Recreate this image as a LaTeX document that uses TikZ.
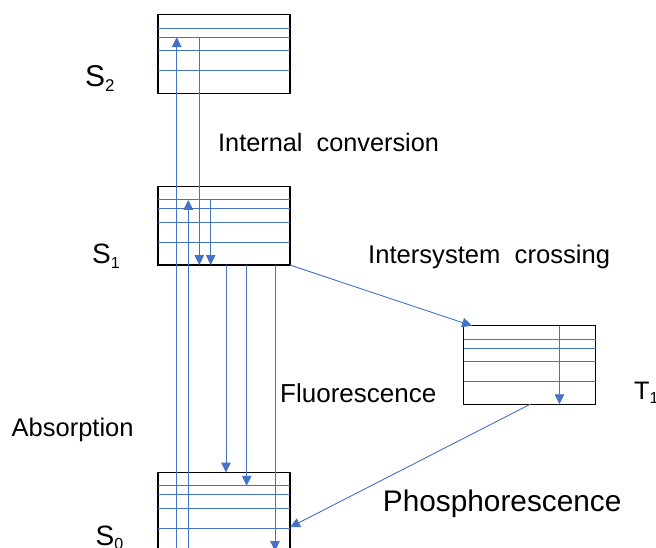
\documentclass[tikz,border=0pt]{standalone}
\usepackage{fontspec}
\setmainfont{Liberation Sans}
\usetikzlibrary{calc,arrows.meta}
\definecolor{lvlblue}{RGB}{68,114,196}
% state label with a lowered index
\newcommand\statelbl[3]{#1\raisebox{-0.17em}{\fontsize{#3}{#3}\selectfont #2}}
\begin{document}
\begin{tikzpicture}[x=1pt,y=-1pt,
  state/.style={draw=black, line width=1.3pt, minimum width=132pt,
    minimum height=78.5pt, inner sep=0pt, outer sep=0pt},
  level/.style={draw=lvlblue, line width=0.9pt},
  trans/.style={draw=lvlblue, line width=0.9pt, -{Triangle[length=10pt,width=9.5pt]}},
  txt/.style={anchor=base west, inner sep=0pt, font=\fontsize{25.3}{30}\selectfont}]
\useasboundingbox (0,0) rectangle (656,548);
\clip (0,0) rectangle (656,548);

% electronic states
\node[state] (S2) at (224,54) {};
\node[state] (S1) at (224,225.8) {};
\node[state] (S0) at (224,511.8) {};
\node[state] (T1) at (529.5,365) {};

% vibrational levels inside each state
\foreach \b in {S2,S1,S0,T1}
  \foreach \d [count=\i] in {13.3,22.3,36,56} {
    \coordinate (\b-\i) at ([yshift=-\d pt]\b.north west);
    \draw[level] (\b-\i) -- ([yshift=-\d pt]\b.north east);
  }

% absorption
\draw[trans] ($(S0.south west)+(18.7,0)$) -- ($(S2-2)+(18.7,0)$);
\draw[trans] ($(S0.south west)+(30.3,0)$) -- ($(S1-1)+(30.3,0)$);
% internal conversion / relaxation
\draw[trans] ($(S2-2)+(41.3,0)$) -- ($(S1.south west)+(41.3,0)$);
\draw[trans] ($(S1-1)+(52.7,0)$) -- ($(S1.south west)+(52.7,0)$);
% fluorescence
\draw[trans] ($(S1.south west)+(68,0)$) -- ($(S0.north west)+(68,0)$);
\draw[trans] ($(S1.south west)+(88.7,0)$) -- ($(S0-1)+(88.7,0)$);
\draw[trans] ($(S1.south west)+(117,0)$) -- ($(S0.south west)+(117,0)$);
% relaxation in the triplet
\draw[trans] ($(T1.north west)+(96,0)$) -- ($(T1.south west)+(96,0)$);
% intersystem crossing
\draw[trans] (S1.south east) -- ($(T1.north west)+(8.5,0)$);
% phosphorescence
\draw[trans] ($(T1.south west)+(66.7,0)$) -- ($(S0.north east)+(0,54.7)$);

% labels
\node[txt, font=\fontsize{30}{36}\selectfont] (lS2) at (85,86.7) {\statelbl{S}{2}{17}};
\node[txt, font=\fontsize{28}{34}\selectfont] (lS1) at (92,263.3) {\statelbl{S}{1}{16}};
\node[txt, font=\fontsize{28}{34}\selectfont] (lS0) at (95.5,545) {\statelbl{S}{0}{16}};
\node[txt] (lT1) at (634,399.3) {\statelbl{T}{1}{16}};
\node[txt] (lIC) at (218,151.7) {Internal~~conversion};
\node[txt, font=\fontsize{25.6}{30}\selectfont] (lISC) at (368,264) {Intersystem~~crossing};
\node[txt, font=\fontsize{26}{30}\selectfont] (lF) at (280,402.7) {Fluorescence};
\node[txt, font=\fontsize{25.5}{30}\selectfont] (lA) at (11.5,436.7) {Absorption};
\node[txt, font=\fontsize{29.8}{35}\selectfont] (lP) at (382.7,511.3) {Phosphorescence};
\end{tikzpicture}
\end{document}
